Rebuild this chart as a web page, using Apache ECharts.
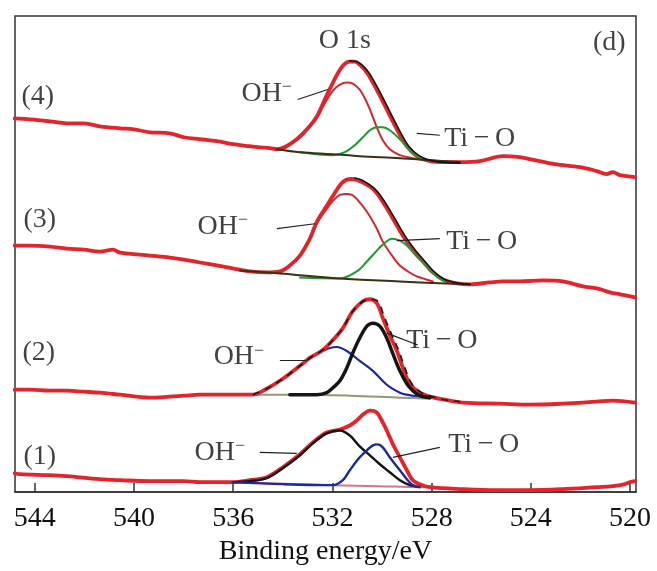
<!DOCTYPE html>
<html>
<head>
<meta charset="utf-8">
<script src="https://cdn.jsdelivr.net/npm/echarts@6/dist/echarts.min.js"></script>
<style>html,body{margin:0;padding:0;background:#fff}#c{width:657px;height:571px}</style>
</head>
<body>
<div id="c"></div>
<script>
// ---- tick labels (binding energy, eV) ----
const tickValues = [544, 540, 536, 532, 528, 524, 520];

// ---- spectrum (4) ----
const env4 = [[544.81,376],[544.20,375],[543.40,373],[542.71,371],[542.02,371],[541.38,368],[540.57,366],[540.01,365],[539.36,362],[538.56,361],[537.99,357],[537.35,355],[536.66,353],[536.02,350],[535.33,348],[535.01,347],[534.52,346],[534.24,345],[533.92,347],[533.44,355],[533.03,365],[532.63,378],[532.31,395],[531.98,412],[531.70,425],[531.50,431],[531.30,433],[531.10,433],[530.90,430],[530.61,422],[530.37,412],[530.09,399],[529.81,385],[529.40,365],[529.00,348],[528.60,338],[528.07,333],[527.47,332],[526.86,332],[526.06,333],[525.13,338],[524.44,337],[524.04,335],[523.03,330],[522.02,327],[521.34,323],[520.94,320],[520.69,322],[520.41,319],[519.80,317]];
const fit4 = [[531.30,434],[531.02,433],[530.82,430],[530.53,422],[530.29,412],[530.01,399],[529.73,385],[529.32,365],[528.92,348],[528.48,338],[527.95,333],[526.86,331]];
const oh4 = [[534.24,345],[533.44,354],[533.03,364],[532.63,376],[532.31,391],[531.98,404],[531.70,410],[531.42,412],[531.18,411],[530.90,405],[530.69,396],[530.49,385],[530.21,367],[529.97,354],[529.69,345],[529.28,339],[528.96,337],[528.60,335],[528.07,334]];
const tio4 = [[533.31,342],[531.98,339],[531.50,342],[531.10,349],[530.77,357],[530.49,364],[530.21,367],[529.97,367],[529.69,364],[529.28,355],[529.00,347],[528.76,341],[528.48,336],[528.07,334]];
const base4 = [[534.24,345],[533.31,342],[531.98,340],[530.90,338],[529.28,336],[528.07,334],[526.86,332]];

// ---- spectrum (3) ----
const env3 = [[544.81,248],[544.20,248],[543.40,247],[542.71,245],[542.02,244],[541.38,242],[540.85,244],[540.57,241],[539.36,238],[538.56,236],[537.99,234],[537.35,231],[536.66,228],[536.02,225],[535.33,222],[534.65,221],[534.12,222],[533.72,228],[533.31,238],[532.91,255],[532.63,272],[532.23,288],[531.98,298],[531.58,312],[531.22,315],[530.90,313],[530.37,305],[529.97,292],[529.56,275],[529.16,258],[528.76,244],[528.35,232],[527.95,221],[527.55,214],[526.98,210],[526.46,209],[525.65,211],[525.13,212],[524.44,212],[523.52,213],[522.71,212],[521.90,207],[521.34,205],[520.81,201],[520.41,199],[519.80,196]];
const fit3 = [[531.10,316],[530.82,314],[530.29,305],[529.89,292],[529.48,275],[529.08,258],[528.68,244],[528.27,232],[527.87,221],[527.47,214],[526.86,210],[526.46,209]];
const oh3 = [[534.12,222],[533.72,228],[533.31,238],[532.91,254],[532.63,270],[532.23,285],[531.98,293],[531.70,299],[531.42,300],[531.22,299],[531.02,295],[530.61,282],[530.21,265],[529.97,252],[529.60,238],[529.28,228],[528.96,222],[528.60,217],[527.95,212]];
const tio3 = [[533.31,216],[531.70,215],[531.02,222],[530.61,232],[530.21,243],[530.01,248],[529.60,255],[529.28,253],[529.00,248],[528.60,237],[528.19,227],[527.79,217],[527.47,212]];
const base3 = [[535.73,223],[534.12,220],[531.70,215],[529.28,212],[527.67,210],[526.46,209]];

// ---- spectrum (2) ----
const env2 = [[544.81,103],[544.20,103],[543.40,102],[542.71,102],[542.02,101],[541.38,100],[540.57,98],[539.36,95],[538.56,96],[537.99,97],[537.35,98],[536.66,98],[536.02,98],[535.21,98],[534.65,104],[534.00,114],[533.31,127],[532.91,135],[532.39,143],[531.98,153],[531.58,165],[531.18,182],[530.77,192],[530.49,194],[530.21,190],[529.97,175],[529.69,158],[529.40,142],[529.16,125],[528.88,109],[528.48,100],[528.07,96],[527.47,93],[526.74,90],[525.25,89],[524.04,88],[522.71,89],[521.34,91],[520.69,92],[519.80,90]];
const fit2 = [[535.21,98],[534.65,104],[534.00,114],[533.31,127],[532.91,135],[532.39,143],[531.98,153],[531.58,165],[531.18,182],[530.77,192],[530.49,194],[530.17,192],[529.89,175],[529.60,158],[529.32,142],[529.08,125],[528.80,109],[528.40,100],[527.95,96],[527.47,93],[526.86,91]];
const oh2 = [[535.21,98],[534.65,104],[534.00,114],[533.31,127],[532.91,135],[532.39,142],[532.10,145],[531.82,146],[531.42,142],[530.90,132],[530.37,122],[529.81,108],[529.28,100],[529.00,98],[528.48,96]];
const tio2 = [[533.72,98],[532.63,98],[532.23,100],[531.98,105],[531.70,112],[531.42,125],[531.18,140],[530.90,155],[530.61,167],[530.37,170],[530.09,167],[529.81,155],[529.56,139],[529.28,122],[529.00,109],[528.76,102],[528.48,97],[528.07,95]];
const base2 = [[535.21,98],[533.31,98],[531.30,97],[529.28,95],[528.07,94]];

// ---- spectrum (1) ----
const env1 = [[544.81,19],[544.60,18],[543.40,17],[542.71,16],[541.38,13],[540.57,12],[539.36,11],[537.99,11],[537.35,10],[536.02,10],[535.33,12],[534.65,15],[534.00,25],[533.31,38],[532.79,50],[532.23,60],[531.70,63],[531.30,67],[531.02,72],[530.77,78],[530.49,82],[530.21,80],[529.97,70],[529.81,62],[529.56,48],[529.28,35],[529.00,22],[528.76,12],[528.48,8],[528.07,5],[526.74,3],[525.37,2],[524.04,2],[522.71,3],[521.34,5],[520.69,6],[520.21,8],[520.00,10],[519.80,11]];
const oh1 = [[536.02,10],[535.33,11],[534.65,14],[534.00,24],[533.31,37],[532.79,49],[532.23,59],[531.70,62],[531.30,57],[530.90,46],[530.49,37],[530.09,28],[529.69,20],[529.28,12],[528.88,7],[528.48,5]];
const tio1 = [[536.02,10],[534.00,8],[531.98,7],[531.58,12],[531.30,22],[530.90,35],[530.61,42],[530.37,47],[530.17,48],[529.97,45],[529.69,35],[529.28,22],[529.00,13],[528.76,7],[528.48,5]];
const base1 = [[536.02,10],[531.98,7],[530.09,6],[528.48,5],[528.07,5]];

// ---- annotation texts and their anchor points (eV, intensity) ----
const labelTexts = ['O 1s', '(d)', '(4)', '(3)', '(2)', '(1)', 'OH', 'OH', 'OH', 'OH', 'Ti\u2009\u2212\u2009O', 'Ti\u2009\u2212\u2009O', 'Ti\u2009\u2212\u2009O', 'Ti\u2009\u2212\u2009O'];
const labelE = [531.50, 520.84, 543.88, 543.80, 543.84, 543.80, 534.65, 536.42, 535.77, 536.54, 526.06, 525.98, 527.59, 525.90];
const labelI = [454, 452, 398, 274, 140, 36, 401, 267, 136, 40, 356, 252, 152, 48];
// leader lines: [E1, I1, E2, I2]
const leaders = [
  [533.40, 395, 532.19, 405],
  [534.24, 265, 532.71, 270],
  [534.12, 133, 533.03, 133],
  [534.93, 40, 533.44, 39],
  [528.60, 361, 527.67, 359],
  [529.40, 253, 527.67, 255],
  [529.81, 160, 528.56, 148],
  [529.56, 35, 527.67, 45]
];

const FONT = 'Liberation Serif';
const TXT = '#111';
const RED = '#e5232b', GREEN = '#1f9a2e', BLUE = '#1c2aa0', BLACK = '#151515';

function ln(data, color, width, z, extra) {
  return Object.assign({
    type: 'line', data: data, symbol: 'none', smooth: 0.35, z: z, silent: true,
    lineStyle: { color: color, width: width, cap: 'round', join: 'round' },
    animation: false
  }, extra || {});
}

const chart = echarts.init(document.getElementById('c'), null, { renderer: 'canvas' });
chart.setOption({
  animation: false,
  backgroundColor: '#fff',
  grid: { left: 15, right: 21, top: 16, bottom: 76, show: true, borderColor: '#333', borderWidth: 1.5, backgroundColor: 'transparent' },
  xAxis: {
    type: 'value', inverse: true, min: 519.76, max: 544.8,
    name: 'Binding energy/eV', nameLocation: 'middle', nameGap: 40,
    nameTextStyle: { fontFamily: FONT, fontSize: 28, color: TXT },
    axisLine: { show: true, onZero: false, lineStyle: { color: '#333', width: 1.5 } },
    axisTick: { show: true, inside: true, length: 9, customValues: tickValues, lineStyle: { color: '#333', width: 1.5 } },
    axisLabel: { customValues: tickValues, fontFamily: FONT, fontSize: 28, color: TXT, margin: 13 },
    splitLine: { show: false }
  },
  yAxis: { type: 'value', min: 0, max: 479, show: false, splitLine: { show: false } },
  series: [
    // spectrum 4
    ln(env4, RED, 3.8, 3),
    ln(oh4, '#d8262c', 2, 4),
    ln(tio4, GREEN, 2, 4),
    ln(base4, '#3b3018', 2, 4),
    ln(fit4, BLACK, 1.6, 5),
    // spectrum 3
    ln(env3, RED, 3.8, 3),
    ln(oh3, '#d8262c', 2, 4),
    ln(tio3, GREEN, 2, 4),
    ln(base3, '#3b3018', 2, 4),
    ln(fit3, BLACK, 1.6, 5),
    // spectrum 2
    ln(oh2, BLUE, 2.2, 2),
    ln(base2, '#8f9a78', 2, 2),
    ln(env2, RED, 3.8, 3),
    ln(fit2, BLACK, 1.4, 5, { lineStyle: { color: BLACK, width: 1.6, type: [7, 6] } }),
    ln(tio2, BLACK, 3.5, 4),
    // spectrum 1
    ln(base1, '#e0708f', 2, 2),
    ln(env1, RED, 3.8, 3),
    ln(oh1, BLACK, 2.4, 4),
    ln(tio1, BLUE, 2.4, 4),
    // leader lines
    {
      type: 'lines', coordinateSystem: 'cartesian2d', silent: true, z: 6, animation: false,
      lineStyle: { color: '#222', width: 1.2, opacity: 1 },
      data: leaders.map(l => ({ coords: [[l[0], l[1]], [l[2], l[3]]] }))
    },
    // text annotations
    {
      type: 'scatter', symbolSize: 0, silent: true, z: 7, animation: false,
      data: labelTexts.map((t, i) => ({ value: [labelE[i], labelI[i]], name: t })),
      label: {
        show: true, position: 'inside', fontFamily: FONT, fontSize: 28, color: TXT,
        formatter: p => p.name === 'OH' ? '{b|OH}{s|\u2212}' : p.name,
        rich: {
          b: { fontFamily: FONT, fontSize: 28, color: TXT, lineHeight: 30 },
          s: { fontFamily: FONT, fontSize: 18, color: TXT, verticalAlign: 'top', lineHeight: 16 }
        }
      }
    }
  ]
});
</script>
</body>
</html>
